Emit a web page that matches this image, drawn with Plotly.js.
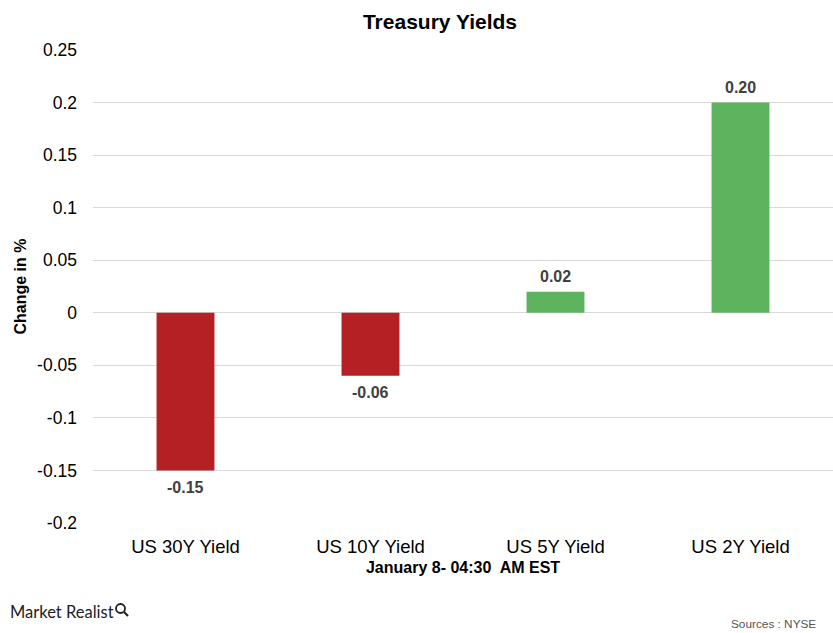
<!DOCTYPE html>
<html><head><meta charset="utf-8">
<script src="https://cdn.plot.ly/plotly-3.0.1.min.js"></script>
<style>html,body{margin:0;padding:0;background:#fff}#chart{width:833px;height:633px}</style>
</head><body><div id="chart"></div>
<script>
const categories = ["US 30Y Yield", "US 10Y Yield", "US 5Y Yield", "US 2Y Yield"];
const values = [-0.15, -0.06, 0.02, 0.20];
const yTicks = [-0.2, -0.15, -0.1, -0.05, 0, 0.05, 0.1, 0.15, 0.2, 0.25];
const yTickLabels = ["-0.2", "-0.15", "-0.1", "-0.05", "0", "0.05", "0.1", "0.15", "0.2", "0.25"];
const colors = values.map(v => v < 0 ? "#B52025" : "#5EB35F");
const font = "Liberation Sans, Arial, sans-serif";

const labelAnnotations = categories.map((c, i) => ({
  x: c, y: values[i], xref: "x", yref: "y",
  text: "<b>" + values[i].toFixed(2) + "</b>",
  showarrow: false, xanchor: "center", yanchor: "middle",
  yshift: values[i] < 0 ? -17 : 15,
  font: {family: font, size: 16, color: "#404040"}
}));

Plotly.newPlot("chart", [{
  type: "bar", x: categories, y: values,
  marker: {color: colors},
  hoverinfo: "skip"
}], {
  width: 833, height: 633,
  margin: {l: 93, r: 0, t: 50, b: 110},
  paper_bgcolor: "#fff", plot_bgcolor: "#fff",
  bargap: 0.687,
  showlegend: false,
  title: {text: "<b>Treasury Yields</b>", font: {family: font, size: 21, color: "#000"}, x: 440/833, xanchor: "center", y: 1 - 22/633, yanchor: "middle"},
  xaxis: {
    tickfont: {family: font, size: 18.5, color: "#000"},
    showgrid: false, showline: false, ticks: "", ticklabelstandoff: 10,
    title: {text: "<b>January 8- 04:30  AM EST</b>", font: {family: font, size: 16, color: "#000"}, standoff: 6}
  },
  yaxis: {
    range: [-0.2, 0.25], tickvals: yTicks, ticktext: yTickLabels,
    tickfont: {family: font, size: 17.5, color: "#000"},
    gridcolor: "#d9d9d9", gridwidth: 1, zeroline: false, ticks: "", ticklen: 0, ticklabelstandoff: 15,
    title: {text: "<b>Change in %</b>", font: {family: font, size: 16, color: "#000"}, standoff: 6}
  },
  annotations: labelAnnotations.concat([
    {text: "Market Realist", xref: "paper", yref: "paper", x: -85/740, y: (523-612)/473, xanchor: "left", yanchor: "middle", showarrow: false,
     font: {family: "Lato, sans-serif", size: 16.5, color: "#222"}},
    {text: "Sources : NYSE", xref: "paper", yref: "paper", x: (818-93)/740, y: (523-624)/473, xanchor: "right", yanchor: "middle", showarrow: false,
     font: {family: font, size: 11.8, color: "#555"}}
  ]),
  shapes: [
    {type: "circle", xref: "paper", yref: "paper", x0: (116-93)/740, x1: (125-93)/740, y0: (523-613)/473, y1: (523-604)/473,
     line: {color: "#222", width: 1.8}},
    {type: "line", xref: "paper", yref: "paper", x0: (124-93)/740, x1: (128-93)/740, y0: (523-612)/473, y1: (523-616)/473,
     line: {color: "#222", width: 2.2}}
  ]
}, {displayModeBar: false, staticPlot: true});
</script></body></html>
